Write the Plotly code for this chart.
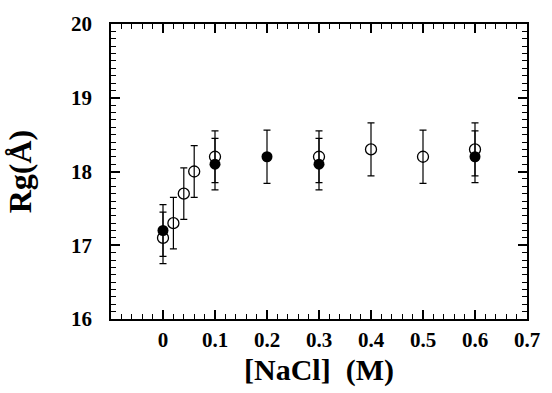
import plotly.graph_objects as go

# Data
open_x = [0, 0.02, 0.04, 0.06, 0.1, 0.3, 0.4, 0.5, 0.6]
open_y = [17.1, 17.3, 17.7, 18.0, 18.2, 18.2, 18.3, 18.2, 18.3]
open_err = [0.35, 0.35, 0.35, 0.35, 0.35, 0.35, 0.36, 0.36, 0.36]

filled_x = [0, 0.1, 0.2, 0.3, 0.6]
filled_y = [17.2, 18.1, 18.2, 18.1, 18.2]
filled_err = [0.35, 0.35, 0.36, 0.35, 0.35]

x_tickvals = [0, 0.1, 0.2, 0.3, 0.4, 0.5, 0.6, 0.7]
x_ticktext = ["0", "0.1", "0.2", "0.3", "0.4", "0.5", "0.6", "0.7"]
y_tickvals = [16, 16.5, 17, 17.5, 18, 18.5, 19, 19.5, 20]
y_ticktext = ["16", "", "17", "", "18", "", "19", "", "20"]
x_minor_vals = [round(-0.1 + 0.02 * i, 2) for i in range(41)]
y_minor_vals = [round(16 + 0.1 * i, 1) for i in range(41)]

FONT = "Liberation Serif"
X_RANGE = [-0.1, 0.7]
Y_RANGE = [16, 20]

fig = go.Figure()
fig.add_trace(go.Scatter(
    x=filled_x, y=filled_y, mode="markers",
    marker=dict(symbol="circle", size=11, color="black"),
    error_y=dict(type="data", array=filled_err, color="black", thickness=1.2, width=3.5),
    showlegend=False,
))
fig.add_trace(go.Scatter(
    x=open_x, y=open_y, mode="markers",
    marker=dict(symbol="circle-open", size=11, color="black", line=dict(width=1.3)),
    error_y=dict(type="data", array=open_err, color="black", thickness=1.2, width=3.5),
    showlegend=False,
))

common = dict(
    showline=True, linecolor="black", linewidth=1.5, mirror="ticks",
    ticks="inside", tickcolor="black", tickwidth=1.5, ticklen=9,
    showgrid=False, zeroline=False,
)

fig.update_layout(
    width=552, height=393,
    margin=dict(l=111, r=17, t=20, b=73),
    plot_bgcolor="white", paper_bgcolor="white",
    font=dict(family=FONT, color="black"),
    xaxis=dict(
        range=X_RANGE, tickmode="array", tickvals=x_tickvals,
        ticktext=["<b>%s</b>" % t for t in x_ticktext],
        tickfont=dict(family=FONT, size=21, color="black"), ticklabelstandoff=1,
        minor=dict(tickmode="array", tickvals=x_minor_vals, ticks="inside", ticklen=5,
                   tickcolor="black", tickwidth=1.2, showgrid=False),
        title=dict(text="<b>[NaCl]  (M)</b>", font=dict(family=FONT, size=30, color="black"), standoff=8),
        **common,
    ),
    yaxis=dict(
        range=Y_RANGE, tickmode="array", tickvals=y_tickvals,
        ticktext=["<b>%s</b>" % t if t else "" for t in y_ticktext],
        tickfont=dict(family=FONT, size=21, color="black"), ticklabelstandoff=13,
        minor=dict(tickmode="array", tickvals=y_minor_vals, ticks="inside", ticklen=5,
                   tickcolor="black", tickwidth=1.2, showgrid=False),
        title=dict(text="<b>Rg(Å)</b>", font=dict(family=FONT, size=32, color="black"), standoff=30),
        **common,
    ),
)

fig.write_html("out.html")
